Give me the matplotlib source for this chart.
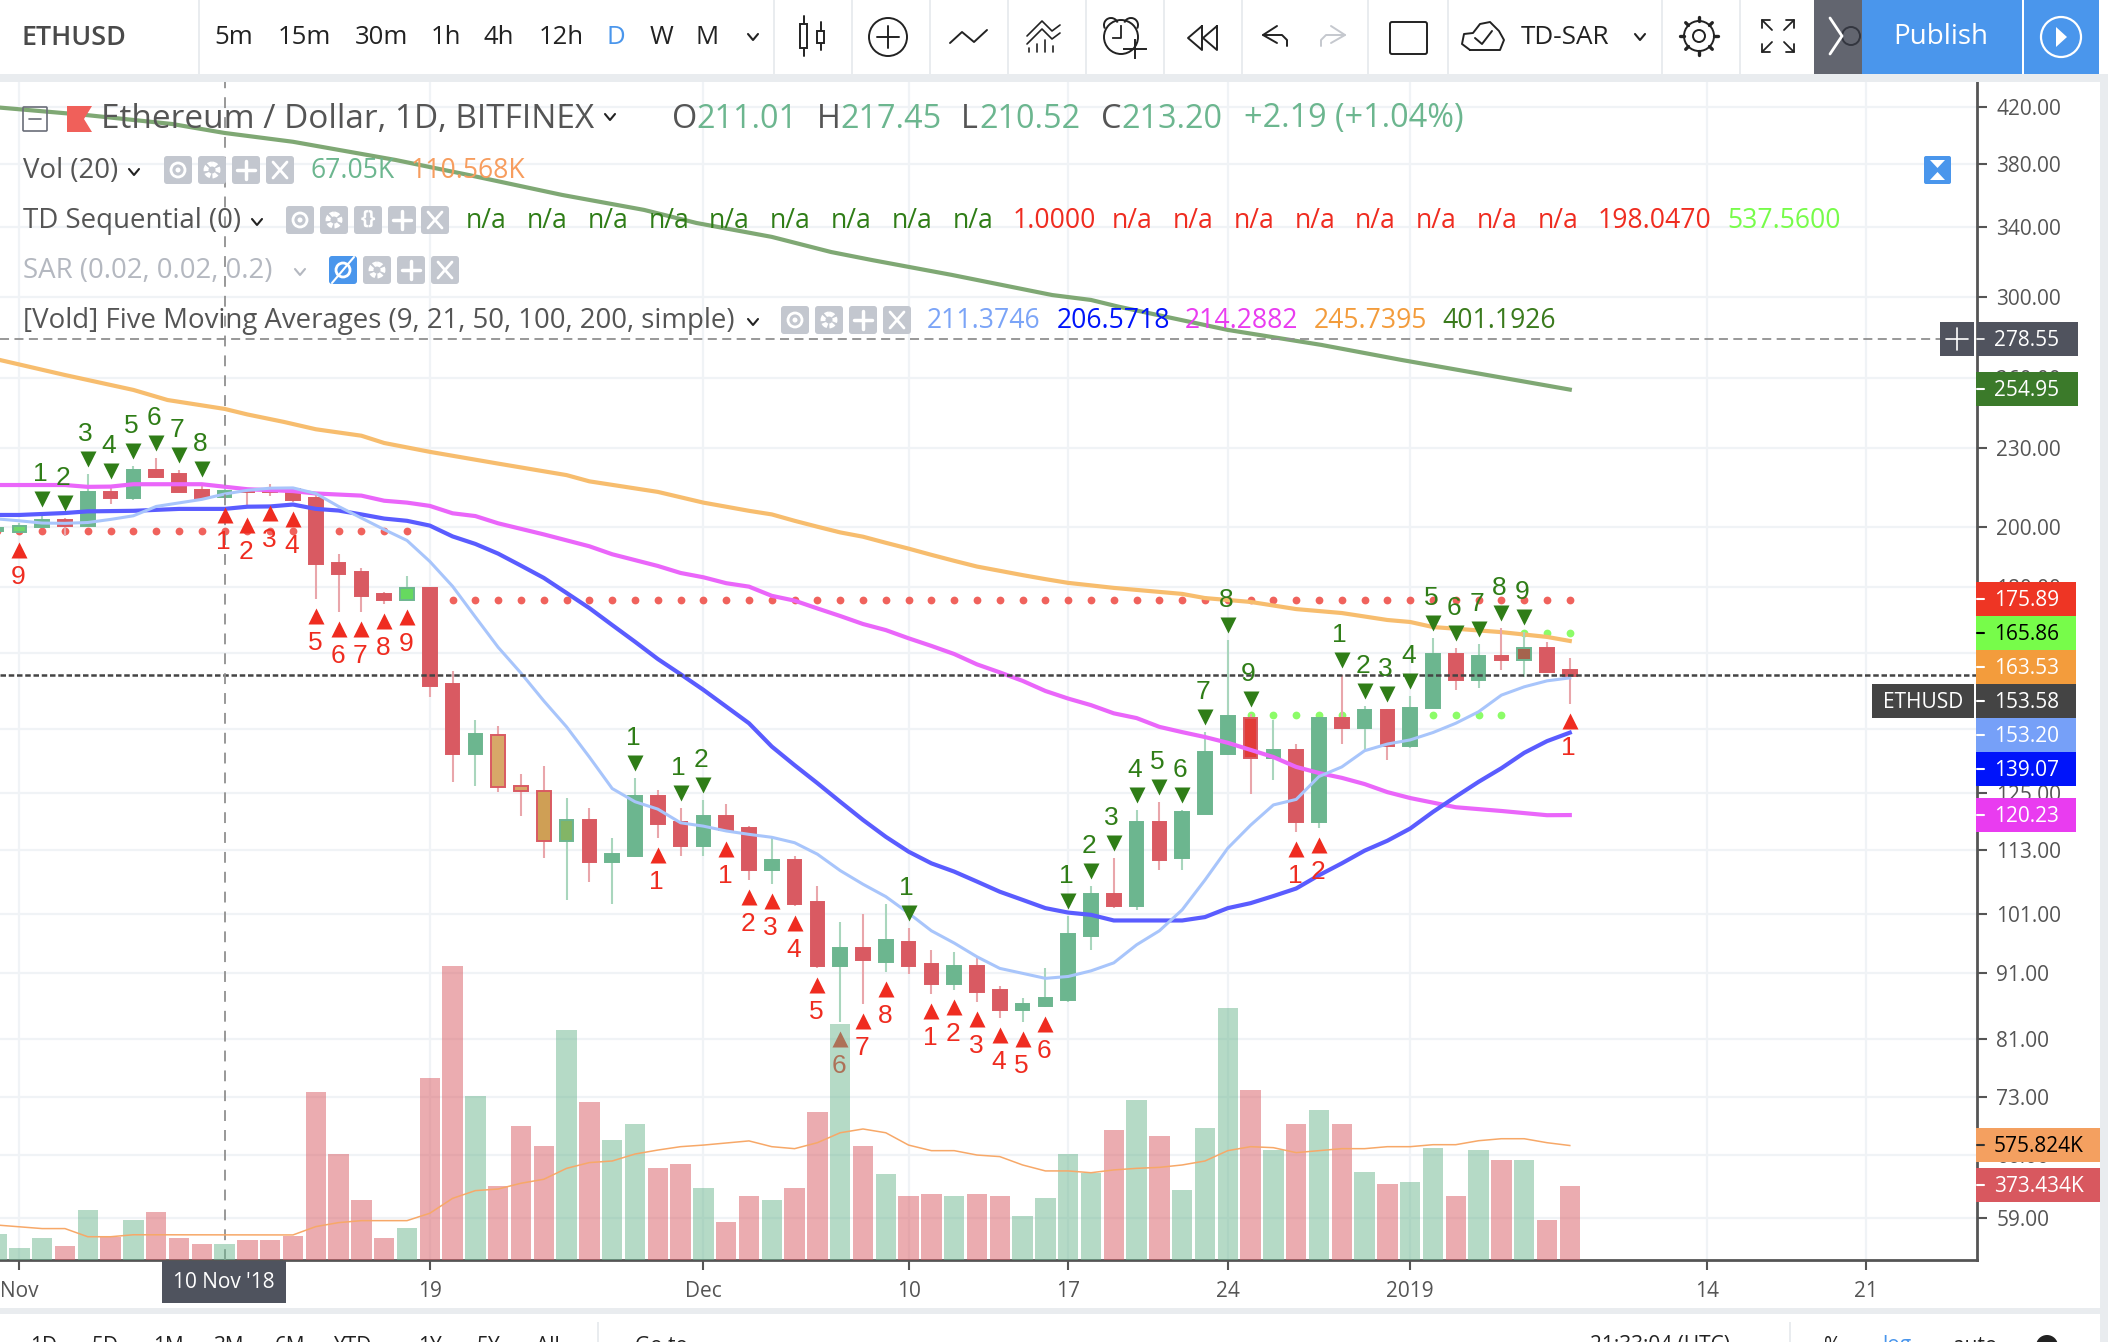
import matplotlib
matplotlib.use("Agg")
import matplotlib.pyplot as plt
from matplotlib.patches import Rectangle, FancyBboxPatch, Circle, Polygon, Arc
from matplotlib.transforms import ScaledTranslation

plt.rcParams['font.family'] = ['Open Sans', 'DejaVu Sans']

# daily candles, first entry is 31 Oct 2018 (day -1), 1 Nov is day 0
first_day = -1
opens = [198.5, 198.2, 199.9, 202.4, 200.5, 212.8, 210.6, 221, 219.6, 213.5, 211.01, 214, 213.9, 213.9,
         210.5, 187.8, 184.7, 177.7, 175.9, 179.6, 151.6, 134, 138.6, 126.5, 125.5, 114.8, 119.1, 110.7,
         111.8, 124.3, 118.8, 113.8, 120, 117.5, 109.1, 111, 103.1, 92.1, 95.1, 92.7, 96.1, 92.4, 89.2,
         92.1, 88.3, 85.2, 85.8, 86.7, 97.1, 104.6, 102.4, 118.8, 111.4, 120.5, 133.9, 142.7, 133, 134.9,
         118.8, 142.7, 140.2, 144.8, 135.8, 145.3, 159.8, 152.6, 159.2, 158.1, 161.5, 155.4]
highs = [200.5, 201.4, 204.6, 203.2, 219.6, 214.9, 222.7, 226, 221, 215.9, 217.45, 214.4, 215.9, 214.4,
         211.8, 190.6, 186, 178.3, 183.4, 179.8, 155.2, 142.1, 140.6, 129.2, 131.1, 123.9, 121.8, 115.5,
         128.4, 125.6, 121.7, 123.5, 122.6, 117.9, 115.9, 111.8, 106.1, 99.5, 100.9, 102.7, 98.5, 94.7, 94.4,
         93.4, 88.9, 87, 91.8, 100.6, 106.1, 111.4, 121.3, 123, 121.3, 139.2, 163.8, 143.7, 142.2, 136.3,
         142.8, 154, 145.8, 144.9, 148.4, 164.4, 161.5, 162.6, 167.3, 166.1, 163.2, 158.7]
lows = [197.5, 197.9, 199.6, 197, 200.3, 208.3, 209.7, 217.9, 212.6, 210.4, 210.52, 207, 211.2, 209,
        176, 172.2, 172.2, 174.6, 175.7, 148.1, 127.5, 126.6, 125.3, 120, 111.5, 103.5, 106.8, 102.8,
        111.6, 115.5, 111.8, 111.8, 116.7, 107.2, 106.4, 102.4, 91.8, 83.4, 86.1, 91.1, 90.8, 87.6, 88.3,
        86.4, 84, 83.4, 85.7, 86.4, 94.7, 102, 101.7, 109.1, 109.1, 120.4, 133.8, 124.8, 127.9, 116.7,
        117.5, 136.3, 134.6, 132.5, 135.3, 145.2, 150, 150.5, 155.4, 153.4, 154.7, 146.3]
closes = [199.5, 200.3, 202.4, 200.5, 212.8, 210.6, 221, 218.6, 212.8, 210.6, 213.2, 212.8, 212.8, 209.7,
          187.5, 184.2, 177.1, 175.9, 179.6, 151.1, 134, 138.7, 126.3, 125.4, 114.8, 119.1, 110.7, 112.2,
          124.3, 118.3, 113.8, 120, 117.1, 109.1, 111, 102.7, 92.1, 95.1, 93.1, 96.4, 92.1, 89.2, 92.1,
          87.9, 85.2, 86.1, 87, 97.4, 104.6, 102.4, 118.8, 111, 120.9, 134.4, 143.2, 133, 134.9, 118.8,
          142.7, 140.2, 144.8, 135.8, 145.3, 159.8, 152.6, 159.2, 158.1, 161.5, 154.8, 153.58]

# volume in thousands, same days as the candles
volumes = [131, 60, 111, 70, 252, 117, 201, 241, 111, 80, 80, 101, 101, 121, 845, 533, 302, 111, 161, 915,
           1479, 825, 372, 674, 573, 1157, 795, 604, 684, 463, 483, 362, 191, 322, 302, 362, 744, 1187, 573,
           433, 322, 332, 322, 332, 322, 221, 312, 533, 439, 654, 805, 624, 352, 664, 1268, 855, 553, 684,
           755, 684, 443, 382, 392, 563, 322, 553, 503, 503, 201, 373.434]
vol_ma_days = [-1, 1, 2, 3, 4, 5, 12, 13, 14, 15, 17, 18, 19, 20, 21, 22, 23, 24, 25, 26, 27, 28, 29, 30, 32, 33,
               34, 35, 36, 37, 38, 39, 40, 41, 42, 43, 44, 45, 46, 47, 48, 49, 50, 51, 52, 53, 54, 55, 56, 57,
               58, 59, 60, 61, 62, 63, 64, 65, 66, 67, 68]
vol_ma = [176, 158, 158, 117, 117, 127, 126, 168, 188, 198, 198, 235, 310, 349, 357, 386, 406, 461, 490, 498, 533,
          553, 570, 578, 599, 570, 560, 590, 640, 659, 640, 578, 550, 550, 528, 520, 478, 448, 448, 439, 453, 461,
          466, 478, 498, 550, 570, 565, 540, 550, 560, 560, 570, 570, 580, 580, 600, 610, 610, 590, 575.824]

# moving averages
sma9_days = [-1, 0, 1, 2, 3, 4, 5, 6, 7, 8, 9, 10, 11, 12, 13, 14, 15, 16, 17, 18, 19, 20, 21, 22, 23, 24, 25, 26,
             27, 28, 29, 30, 31, 32, 33, 34, 35, 36, 37, 38, 39, 40, 41, 42, 43, 44, 45, 46, 47, 48, 49, 50, 51,
             52, 53, 54, 55, 56, 57, 58, 59, 60, 61, 62, 63, 64, 65, 66, 67, 68]
sma9 = [202.9, 202.2, 201.4, 201.3, 201.6, 202.7, 204, 207.4, 208.7, 210, 212, 213.4, 214.2, 214.3, 212.2, 207.4,
        203.2, 199.1, 195.3, 188.2, 180.1, 170.6, 161.7, 154.5, 147.1, 140.5, 133.2, 126, 123.1, 121.5, 118.6,
        117.9, 116.9, 116.2, 115.6, 114.5, 112.2, 109, 106.4, 104.1, 101.1, 98, 95.9, 93.6, 91.7, 90.9, 90.1,
        90.4, 91.3, 92.6, 95.6, 98, 101.7, 107.2, 113.4, 118.1, 122.4, 123.6, 128.7, 130.9, 134.7, 136.3,
        137.3, 139.1, 141.4, 144.3, 148.6, 150.8, 152.4, 153.2]
sma21_days = [-1, 0, 2, 3, 5, 7, 9, 10, 11, 12, 13, 14, 15, 16, 17, 18, 19, 20, 21, 22, 23, 24, 25, 26, 27, 28, 29,
              30, 32, 33, 34, 35, 36, 37, 38, 39, 40, 41, 42, 43, 44, 45, 46, 47, 48, 51, 52, 53, 54, 55, 56, 57,
              58, 59, 60, 61, 62, 63, 64, 65, 66, 67, 68]
sma21 = [204.3, 204.3, 205, 205.6, 205.8, 206.5, 206.5, 207.3, 207.4, 208.1, 206.5, 205.9, 204.5, 203, 202.2,
         200.5, 196.7, 194.1, 190.8, 186.8, 182.8, 178, 173.3, 168.2, 163.3, 158.4, 154.2, 150, 141.4, 135.7,
         131.3, 127.2, 123.1, 119.2, 115.7, 112.7, 110.4, 108.8, 106.9, 105, 103.5, 102, 101.2, 100.8, 99.8, 99.8,
         100.4, 102, 102.9, 104.2, 105.6, 108.1, 110.4, 112.9, 114.9, 117.4, 120.9, 124.2, 127.5, 130.6, 134.2,
         137, 139.07]
sma50_days = [-1, 2, 3, 4, 5, 8, 10, 12, 13, 15, 16, 17, 18, 19, 20, 21, 23, 25, 26, 28, 29, 30, 31, 32, 33, 34, 35,
              36, 37, 38, 39, 40, 41, 42, 43, 44, 45, 46, 47, 48, 49, 50, 51, 52, 53, 54, 55, 56, 57, 58, 59, 60,
              61, 63, 65, 67, 68]
sma50 = [215.4, 215.4, 214.7, 214.8, 215.7, 215.7, 213.8, 213.1, 212.2, 211.4, 209.5, 208.8, 207.6, 204.9, 203.9,
         201.3, 197.4, 193.3, 190.6, 186.7, 184.4, 183, 181.1, 180, 177.1, 175.6, 173.2, 170.9, 168.5, 166.7, 164.3,
         162.1, 159.8, 156.9, 154.7, 152.4, 149.7, 147.7, 146, 143.9, 142.7, 140.5, 139.2, 138, 136.6, 134.9, 133.2,
         130.9, 129.5, 128.4, 127, 125.2, 123.9, 121.9, 121.1, 120.2, 120.23]
sma100_days = [-1, 2, 5, 6.5, 9, 10, 11.6, 13, 15, 16, 18, 21, 24, 25, 28, 30, 31, 32, 33, 34, 35, 36, 37, 38, 39,
               40, 41, 42, 43, 44, 45, 46, 47, 48, 51, 52, 54, 56, 58, 60, 61, 62, 65, 67, 68]
sma100 = [269, 261.6, 254.8, 250.3, 246.4, 244, 240.8, 237.7, 235, 232, 228.4, 223.7, 219.2, 216.8, 212.8, 208.8,
          207.3, 205.8, 204.5, 202.2, 200.1, 198.1, 196.6, 194.5, 192.5, 190.4, 188.4, 186.5, 185.1, 183.7, 182.4,
          181.2, 180.4, 179.6, 177.7, 176.4, 175.2, 173, 171.8, 169.7, 169.1, 167.6, 166.1, 164.7, 163.53]
sma200_days = [-1, 3, 6.7, 9, 12, 16.5, 19.7, 23.8, 27.4, 29.7, 33, 35.6, 37.4, 40.9, 45.3, 47, 48.2, 53, 57.1,
               60.6, 68]
sma200 = [419.8, 414, 407.6, 401.2, 395, 382.5, 372.5, 359.6, 350.2, 342.2, 333.9, 325.1, 320.5, 312.2, 301.3,
          298.7, 295.2, 283.3, 275.9, 268.7, 254.95]

# TD Sequential counts: (day, count)
td_up = [(1, 1), (2, 2), (3, 3), (4, 4), (5, 5), (6, 6), (7, 7), (8, 8), (27, 1), (29, 1), (30, 2), (39, 1),
         (46, 1), (47, 2), (48, 3), (49, 4), (50, 5), (51, 6), (52, 7), (53, 8), (54, 9),
         (58, 1), (59, 2), (60, 3), (61, 4), (62, 5), (63, 6), (64, 7), (65, 8), (66, 9)]
td_down = [(0, 9), (9, 1), (10, 2), (11, 3), (12, 4), (13, 5), (14, 6), (15, 7), (16, 8), (17, 9), (28, 1),
           (31, 1), (32, 2), (33, 3), (34, 4), (35, 5), (36, 6), (37, 7), (38, 8), (40, 1), (41, 2), (42, 3),
           (43, 4), (44, 5), (45, 6), (56, 1), (57, 2), (68, 1)]

# SAR dots: (first day, last day, price)
sar_red = [(-1, 17, 198.6), (18, 68, 175.89)]
sar_green = [(54, 65, 143.5), (66, 68, 165.86)]

# bars that TD paints in a different colour
body_tint = {0: '#6fd66a', 17: '#66d95f', 21: '#d8a868', 22: '#d8a868', 23: '#cf9f55', 24: '#83b566',
             54: '#e23c38', 66: '#a5634d'}

last_line = 154.0
crosshair_price = 278.55
crosshair_day = 9
price_ticks = [420, 380, 340, 300, 260, 230, 200, 180, 160, 140, 125, 113, 101, 91, 81, 73, 66, 59]
date_ticks = [0, 18, 30, 39, 46, 53, 61, 74, 81]
date_labels = ['Nov', '19', 'Dec', '10', '17', '24', '2019', '14', '21']

UP = '#6cb68f'
DOWN = '#d95a62'
UP_WICK = '#a9d6bd'
DOWN_WICK = '#e9a6ab'
W, H = 2108, 1342
SMALL = 15.0
NAME = 19.9
TITLE = 24.0
VALUE = 23.3

fig = plt.figure(figsize=(W / 100, H / 100), dpi=100, facecolor='white')
ax = fig.add_axes([0, (H - 1260) / H, 1977 / W, (1260 - 82) / H])
ax.set_yscale('log')
ax.set_xlim(-0.85, 85.86)
ax.set_ylim(54.78, 439.0)
ax.set_yticks(price_ticks)
ax.set_yticklabels(['%.2f' % t for t in price_ticks])
ax.yaxis.set_minor_locator(plt.NullLocator())
ax.yaxis.tick_right()
ax.set_xticks(date_ticks)
ax.set_xticklabels(date_labels)
ax.tick_params(axis='y', length=7, width=1.5, color='#555555', labelsize=SMALL, labelcolor='#555555', pad=7)
ax.tick_params(axis='x', length=7, width=1.5, color='#555555', labelsize=SMALL, labelcolor='#555555', pad=8)
ax.grid(True, color='#f0f3f6', lw=1.6)
ax.set_axisbelow(True)
for s in ['top', 'left']:
    ax.spines[s].set_visible(False)
for s in ['right', 'bottom']:
    ax.spines[s].set_color('#555555')
    ax.spines[s].set_linewidth(2)

days = list(range(first_day, first_day + len(opens)))

# SAR dots sit under the candles
for start, end, price in sar_red:
    d = list(range(start, end + 1))
    ax.plot(d, [price] * len(d), ls='', marker='o', ms=5.6, mew=0, color='#f0625c', zorder=2)
for start, end, price in sar_green:
    d = list(range(start, end + 1))
    ax.plot(d, [price] * len(d), ls='', marker='o', ms=5.6, mew=0, color='#8cfc68', zorder=2)

ax.plot(sma200_days, sma200, color='#7fa874', lw=3, zorder=3)
ax.plot(sma100_days, sma100, color='#f7bd6e', lw=3, zorder=3)

for d, o, h, l, c in zip(days, opens, highs, lows, closes):
    up = c >= o
    ax.vlines(d, l, h, color=UP_WICK if up else DOWN_WICK, lw=1.5, zorder=4)
    ax.bar(d, abs(c - o), bottom=min(o, c), width=0.6, color=body_tint.get(d, UP if up else DOWN),
           edgecolor=UP if up else DOWN, lw=1.4, zorder=5)

ax.plot(sma50_days, sma50, color='#ea66fa', lw=3, zorder=6)
ax.plot(sma21_days, sma21, color='#5a5cff', lw=3, zorder=6)
ax.plot(sma9_days, sma9, color='#a8c5fb', lw=2.2, zorder=6)

# current price line and crosshair
ax.axhline(last_line, color='#444444', lw=1.8, ls=(0, (2.2, 1.1)), zorder=7)
ax.axhline(crosshair_price, color='#909090', lw=1.3, ls=(0, (5, 3)), zorder=7)
ax.axvline(crosshair_day, color='#909090', lw=1.3, ls=(0, (6, 5)), zorder=7)

high_by_day = dict(zip(days, highs))
low_by_day = dict(zip(days, lows))
above = ax.transData + ScaledTranslation(0, 15 / 100, fig.dpi_scale_trans)
below = ax.transData + ScaledTranslation(0, -17 / 100, fig.dpi_scale_trans)
for d, n in td_up:
    ax.plot([d], [high_by_day[d]], marker='v', ms=11.5, color='#2f7d17', mec='none', zorder=8, transform=above)
    ax.annotate(str(n), (d, high_by_day[d]), xytext=(-2, 40), textcoords='offset pixels', ha='center', va='center',
                fontsize=19, family='Liberation Sans', color='#2f7d17', zorder=8)
for d, n in td_down:
    ax.plot([d], [low_by_day[d]], marker='^', ms=11.5, color='#ef2c20', mec='none', zorder=8, transform=below)
    ax.annotate(str(n), (d, low_by_day[d]), xytext=(-1, -44), textcoords='offset pixels', ha='center', va='center',
                fontsize=19, family='Liberation Sans', color='#ef2c20', zorder=8)

# volume pane shares the price pane
vol = fig.add_axes(ax.get_position(), sharex=ax, facecolor='none')
vol.set_ylim(0, 5925)
vol.axis('off')
vol.bar(days, volumes, width=0.9, color=[UP if c >= o else DOWN for o, c in zip(opens, closes)], alpha=0.5)
vol.plot(vol_ma_days, vol_ma, color='#f7a868', lw=1.1)

# everything around the chart is laid out in pixels
ui = fig.add_axes([0, 0, 1, 1], facecolor='none')
ui.set_xlim(0, W)
ui.set_ylim(H, 0)
ui.axis('off')
INK = '#222222'


def box(x0, y0, x1, y1, color, z=2):
    ui.add_patch(Rectangle((x0, y0), x1 - x0, y1 - y0, fc=color, ec='none', zorder=z))


def label(x, y, s, color='#555555', size=19.1, ha='left', z=5, **kw):
    ui.text(x, y, s, color=color, fontsize=size, ha=ha, va='center', zorder=z, **kw)


def stroke(xs, ys, color=INK, lw=1.4):
    ui.plot(xs, ys, color=color, lw=lw, zorder=5, solid_capstyle='round')


def chevron(x, y, color=INK, w=5, lw=1.5):
    stroke([x - w, x, x + w], [y - 3, y + 3, y - 3], color, lw)


def button(x, y, glyph='x', color='#c3c7cf'):
    ui.add_patch(FancyBboxPatch((x - 11, y - 11), 22, 22, boxstyle='round,pad=3', fc=color, ec='none', zorder=4))
    if glyph == 'x':
        stroke([x - 7, x + 7], [y - 8, y + 8], 'white', 2)
        stroke([x - 7, x + 7], [y + 8, y - 8], 'white', 2)
    elif glyph == '+':
        stroke([x - 9, x + 9], [y, y], 'white', 2.5)
        stroke([x, x], [y - 9, y + 9], 'white', 2.5)
    elif glyph == 'eye':
        ui.add_patch(Circle((x, y), 7, fc='none', ec='white', lw=2, zorder=5))
        ui.add_patch(Circle((x, y), 2.5, fc='white', ec='none', zorder=5))
    elif glyph == 'gear':
        ui.add_patch(Circle((x, y), 6, fc='none', ec='white', lw=3.5, ls=(0, (1, 0.4)), zorder=5))
    elif glyph == 'code':
        ui.text(x, y - 1, '{}', color='white', fontsize=14, ha='center', va='center', weight='bold', zorder=5)
    elif glyph == 'off':
        ui.add_patch(Circle((x, y), 7, fc='none', ec='white', lw=2, zorder=5))
        stroke([x - 11, x + 11], [y + 13, y - 13], 'white', 1.5)


# page frame and top toolbar
box(0, 0, W, 74, 'white', 1)
box(0, 74, W, 82, '#e9ecef')
box(2100, 74, W, H, '#e9ecef')
box(0, 1308, 2100, 1314, '#e9ecef')
box(0, 1314, 2100, H, 'white', 1)
for x in [199, 774, 852, 930, 1008, 1086, 1164, 1242, 1368, 1448, 1662, 1740]:
    box(x - 1, 0, x + 1, 74, '#e9ecef')
label(21, 38, 'ETHUSD', size=19.4, weight='semibold', color='#4a4a4a')
for x, s in zip([234, 304, 381, 446, 499, 561, 661, 707], ['5m', '15m', '30m', '1h', '4h', '12h', 'W', 'M']):
    label(x, 38, s, color=INK, size=18.5, ha='center')
label(616, 38, 'D', color='#4a96ec', size=18.5, ha='center')
chevron(753, 37)
chevron(1640, 37)
# candle icon
stroke([803.5, 803.5], [16, 56])
stroke([820.5, 820.5], [22, 50])
ui.add_patch(Rectangle((800, 24), 7, 24, fc='white', ec=INK, lw=1.4, zorder=6))
ui.add_patch(Rectangle((817, 31), 7, 12, fc='white', ec=INK, lw=1.4, zorder=6))
# add-symbol and line style
ui.add_patch(Circle((888, 37), 19, fc='none', ec=INK, lw=1.4, zorder=5))
stroke([877, 899], [37, 37])
stroke([888, 888], [26, 48])
stroke([950, 962, 974, 987], [43, 32, 42, 30])
# indicators
stroke([1027, 1042, 1052, 1060], [36, 21, 31, 25], lw=1.2)
stroke([1027, 1042, 1052, 1060], [44, 29, 39, 33], lw=1.2)
for x, top in zip([1029, 1037, 1045, 1053], [48, 44, 40, 46]):
    stroke([x, x], [top, 52], lw=1.2)
# alarm
ui.add_patch(Circle((1121, 37), 17, fc='white', ec=INK, lw=1.4, zorder=5))
ui.add_patch(Arc((1111, 25), 14, 14, theta1=150, theta2=340, ec=INK, lw=1.4, zorder=5))
ui.add_patch(Arc((1131, 25), 14, 14, theta1=200, theta2=30, ec=INK, lw=1.4, zorder=5))
ui.plot([1121, 1121, 1113], [26, 38, 38], color=INK, lw=1.3, zorder=6)
ui.plot([1124, 1146], [49, 49], color=INK, lw=1.4, zorder=6)
ui.plot([1135, 1135], [40, 58], color=INK, lw=1.4, zorder=6)
# rewind
stroke([1202, 1188, 1202, 1202], [26, 38, 50, 26])
stroke([1217, 1203, 1217, 1217], [26, 38, 50, 26])
# undo and redo
stroke([1277, 1263, 1277], [26, 35, 43])
stroke([1263, 1282, 1287, 1287], [35, 35, 40, 46])
stroke([1331, 1345, 1331], [26, 35, 43], '#c5c8ce')
stroke([1345, 1326, 1321, 1321], [35, 35, 40, 46], '#c5c8ce')
ui.add_patch(FancyBboxPatch((1392, 24), 33, 28, boxstyle='round,pad=2', fc='none', ec=INK, lw=1.4, zorder=5))
# cloud
stroke([1470, 1462, 1464, 1473, 1480, 1490, 1499, 1504, 1500, 1470], [50, 44, 34, 33, 24, 22, 31, 40, 50, 50])
stroke([1475, 1482, 1492], [38, 44, 31])
label(1565, 37, 'TD-SAR', color=INK, size=18.8, ha='center')
# settings and fullscreen
ui.add_patch(Circle((1699, 36), 15, fc='none', ec=INK, lw=1.4, zorder=5))
ui.add_patch(Circle((1699, 36), 6, fc='none', ec=INK, lw=1.4, zorder=5))
for dx, dy in [(0, -1), (0, 1), (1, 0), (-1, 0), (.7, .7), (-.7, .7), (.7, -.7), (-.7, -.7)]:
    stroke([1699 + dx * 15, 1699 + dx * 19], [36 + dy * 15, 36 + dy * 19], lw=2.4)
for sx, sy in [(-1, -1), (1, -1), (-1, 1), (1, 1)]:
    stroke([1778 + sx * 6, 1778 + sx * 16], [36 + sy * 6, 36 + sy * 16], lw=1.3)
    stroke([1778 + sx * 16, 1778 + sx * 16, 1778 + sx * 8], [36 + sy * 8, 36 + sy * 16, 36 + sy * 16], lw=1.3)
box(1814, 0, 1862, 74, '#62656f')
stroke([1830, 1842, 1830], [18, 36, 54], 'white', 2)
ui.add_patch(Circle((1851, 36), 9, fc='none', ec='#33363f', lw=1.4, zorder=4))
box(1862, 0, 2099, 74, '#4a96ec')
box(2022, 0, 2024, 74, '#ffffff')
label(1941, 37, 'Publish', color='white', size=20, ha='center')
ui.add_patch(Circle((2061, 37), 20, fc='none', ec='white', lw=1.6, zorder=5))
ui.add_patch(Polygon([(2056, 27), (2056, 47), (2067, 37)], fc='white', ec='none', zorder=5))

# legend rows
green = '#6cb68f'
ui.add_patch(FancyBboxPatch((24, 108), 22, 22, boxstyle='round,pad=1', fc='none', ec='#6a6d78', lw=1.2, zorder=5))
stroke([29, 41], [119, 119], '#6a6d78', 1.2)
ui.add_patch(Polygon([(67, 106), (92, 106), (84, 119), (92, 132), (67, 132)], fc='#f0605a', ec='none', zorder=5))
label(101, 119, 'Ethereum / Dollar, 1D, BITFINEX', size=TITLE)
chevron(610, 117)
for x, s, vx, v in [(672, 'O', 696, '211.01'), (817, 'H', 840, '217.45'), (961, 'L', 979, '210.52'), (1101, 'C', 1121, '213.20')]:
    label(x, 119, s, size=VALUE)
    label(vx, 119, v, color=green, size=VALUE)
label(1244, 119, '+2.19 (+1.04%)', color=green, size=VALUE)

label(23, 171, 'Vol (20)', size=NAME)
chevron(134, 172)
for x, g in zip([178, 212, 246, 280], ['eye', 'gear', '+', 'x']):
    button(x, 170, g)
label(310, 171, '67.05K', color=green)
label(411, 171, '110.568K', color='#f79d5e')

label(23, 221, 'TD Sequential (0)', size=NAME)
chevron(257, 222)
for x, g in zip([300, 334, 368, 402, 435], ['eye', 'gear', 'code', '+', 'x']):
    button(x, 220, g)
for i in range(9):
    label(466 + i * 60.8, 221, 'n/a', color='#2f7d17')
label(1013, 221, '1.0000', color='#ef2c20')
for i in range(8):
    label(1112 + i * 60.8, 221, 'n/a', color='#ef2c20')
label(1598, 221, '198.0470', color='#ef2c20')
label(1727, 221, '537.5600', color='#77fc4a')

label(23, 271, 'SAR (0.02, 0.02, 0.2)', color='#b4b8c0', size=NAME)
chevron(300, 272, color='#b4b8c0')
for x, g, c in zip([343, 377, 411, 445], ['off', 'gear', '+', 'x'], ['#4a96ec', '#c3c7cf', '#c3c7cf', '#c3c7cf']):
    button(x, 270, g, c)

label(23, 321, '[Vold] Five Moving Averages (9, 21, 50, 100, 200, simple)', size=NAME)
chevron(753, 322)
for x, g in zip([795, 829, 863, 897], ['eye', 'gear', '+', 'x']):
    button(x, 320, g)
for x, s, c in [(927, '211.3746', '#7ba4f7'), (1057, '206.5718', '#0014fa'), (1185, '214.2882', '#e93cf0'),
                (1314, '245.7395', '#f39c3c'), (1442, '401.1926', '#3a7a1c')]:
    label(x, 321, s, color=c)

# scale mode button
ui.add_patch(FancyBboxPatch((1926, 158), 23, 24, boxstyle='round,pad=2', fc='#4a96ec', ec='none', zorder=4))
ui.add_patch(Polygon([(1930, 160), (1945, 160), (1937.5, 168)], fc='white', ec='none', zorder=5))
ui.add_patch(Polygon([(1930, 180), (1945, 180), (1937.5, 172)], fc='white', ec='none', zorder=5))

# price tags on the axis
tags = [(582, '175.89', '#ee3524', 'white'), (616, '165.86', '#77fc4a', 'black'), (650, '163.53', '#f39c3c', 'white'),
        (684, '153.58', '#444444', 'white'), (718, '153.20', '#76a0f8', 'white'), (752, '139.07', '#0014fa', 'white'),
        (798, '120.23', '#e93cf0', 'white'), (372, '254.95', '#3b7a2a', 'white')]
for y0, s, c, tc in tags:
    box(1976, y0, 2078 if y0 == 372 else 2076, y0 + 34, c, 4)
    stroke([1977, 1984], [y0 + 17, y0 + 17], tc, 1.5)
    label(1994, y0 + 18, s, color=tc, size=SMALL, ha='left')
box(1872, 684, 1974, 718, '#444444', 4)
label(1923, 702, 'ETHUSD', color='white', size=SMALL, ha='center')
box(1977, 322, 2078, 356, '#50535e', 4)
box(1940, 322, 1974, 356, '#50535e', 4)
stroke([1946, 1968], [339, 339], 'white', 1.2)
stroke([1957, 1957], [328, 350], 'white', 1.2)
stroke([1977, 1984], [339, 339], 'white', 1.2)
label(1994, 340, '278.55', color='white', size=SMALL)
box(1976, 1128, 2100, 1162, '#f4a060', 4)
stroke([1977, 1984], [1145, 1145], '#333333', 1.5)
label(1994, 1146, '575.824K', color='black', size=SMALL)
box(1976, 1168, 2100, 1202, '#d8585f', 4)
stroke([1977, 1984], [1185, 1185], 'white', 1.5)
label(1994, 1186, '373.434K', color='white', size=SMALL)

# crosshair date tag
box(162, 1261, 286, 1303, '#4f535e', 4)
label(224, 1282, "10 Nov '18", color='white', size=SMALL, ha='center')

# bottom bar, cut off by the screenshot
for x, s in zip([44, 105, 168, 228, 290, 353, 430, 488, 548], ['1D', '5D', '1M', '3M', '6M', 'YTD', '1Y', '5Y', 'All']):
    label(x, 1346, s, color=INK, size=SMALL, ha='center')
label(635, 1346, 'Go to...', color=INK, size=SMALL)
box(597, 1322, 599, H, '#e9ecef')
box(1789, 1322, 1791, H, '#e9ecef')
label(1660, 1346, '21:33:04 (UTC)', color=INK, size=SMALL, ha='center')
label(1833, 1346, '%', color=INK, size=SMALL, ha='center')
label(1897, 1346, 'log', color='#4a96ec', size=SMALL, ha='center')
label(1975, 1346, 'auto', color=INK, size=SMALL, ha='center')
ui.add_patch(Circle((2047, 1346), 11, fc=INK, ec='none', zorder=5))

fig.savefig('out.png', dpi=100)
